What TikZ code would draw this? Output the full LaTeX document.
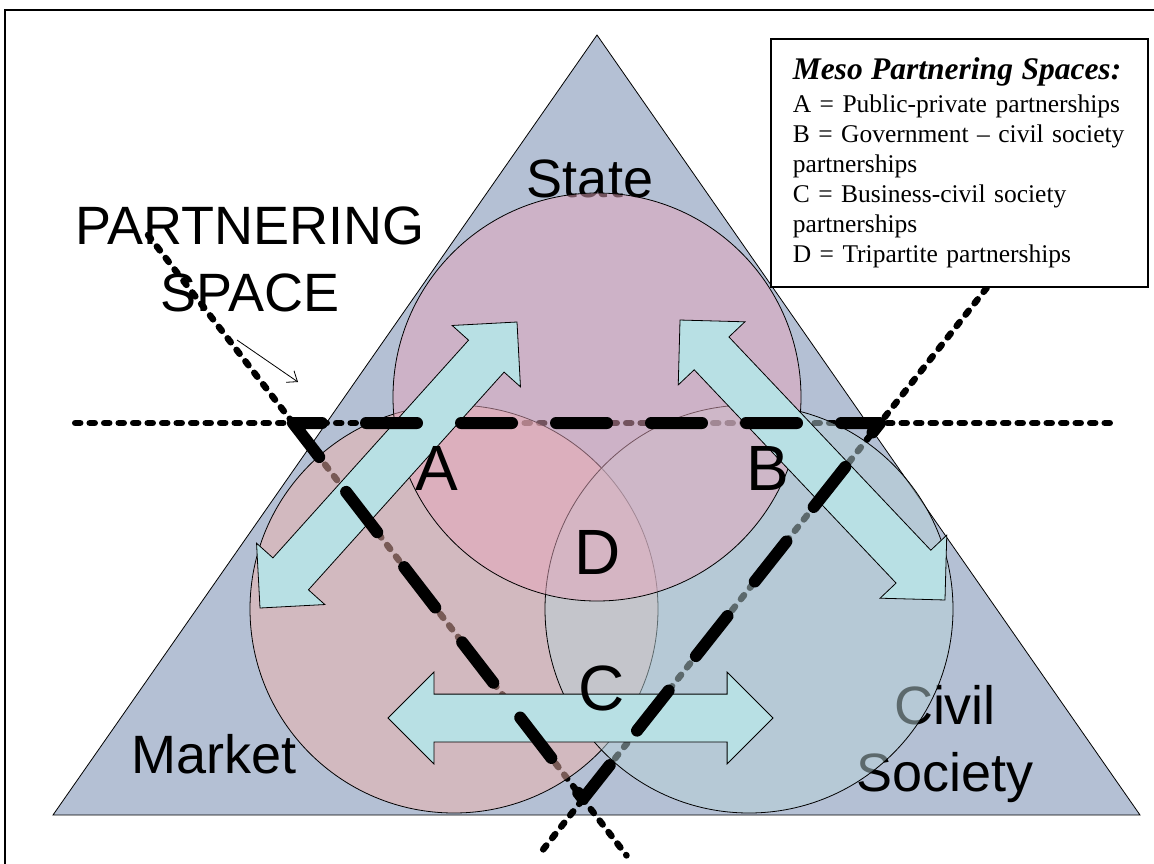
\documentclass[tikz,border=0pt]{standalone}
\usepackage{fontspec}
\setmainfont{Liberation Sans}
\newfontfamily\boxfont{Liberation Serif}
\usetikzlibrary{calc,shapes.arrows,arrows.meta}

\definecolor{tricol}{RGB}{180,192,212}
\definecolor{statecol}{RGB}{230,166,188}
\definecolor{marketcol}{RGB}{240,180,172}
\definecolor{civilcol}{RGB}{184,210,216}
\definecolor{arrowcol}{RGB}{184,224,228}

\tikzset{
  sector/.style={draw=black, line width=0.8pt, fill opacity=0.5},
  dotline/.style={line width=6.5pt, dash pattern=on 5pt off 9.5pt, line cap=round},
  spaceline/.style={line width=12pt, dash pattern=on 51pt off 44pt, dash phase=22pt, line cap=round, line join=round},
  fatarrow/.style={double arrow, draw=black, line width=0.8pt, fill=arrowcol,
    inner sep=23.5pt, double arrow head extend=22pt},
  biglabel/.style={font=\fontsize{54}{67}\selectfont, align=center},
  letter/.style={font=\fontsize{64}{64}\selectfont, anchor=base},
}

% fat two-headed arrow between two named points
\newcommand{\partarrow}[3]{%
  \path let \p1=($(#3)-(#2)$) in
    node[fatarrow, minimum height={veclen(\x1,\y1)}, rotate={atan2(\y1,\x1)}] (#1) at ($(#2)!0.5!(#3)$) {};}

\begin{document}
\begin{tikzpicture}[x=1pt,y=-1pt]
\useasboundingbox (0,0) rectangle (1154,863);
\draw[line width=2pt] (5,10) rectangle (1180,890);

% the big triangle
\coordinate (top) at (597,35);
\coordinate (left) at (53,815);
\coordinate (right) at (1140,815);
\filldraw[fill=tricol, draw=black, line width=0.8pt] (left) -- (right) -- (top) -- cycle;

% sector names, the circles go over them
\node[biglabel, anchor=base] (state) at (590,197) {State};
\node[biglabel, anchor=base] (market) at (214,773) {Market};
\node[biglabel] (civil) at (945,744) {Civil\\Society};
\node[biglabel] (pspace) at (250,259) {PARTNERING\\SPACE};

% corners of the partnering space
\coordinate (psL) at (293,423);
\coordinate (psR) at (880,423);
\coordinate (psB) at (583,799);

% long dotted lines
\draw[dotline] ($(psL)!-0.371!(psR)$) -- ($(psL)!1.405!(psR)$);
\draw[dotline] ($(psL)!-0.5!(psB)$) -- ($(psL)!1.15!(psB)$);
\draw[dotline] ($(psR)!-0.45!(psB)$) -- ($(psR)!1.15!(psB)$);

% the three circles
\coordinate (cmarket) at (454,609);
\coordinate (ccivil) at (749,609);
\coordinate (cstate) at (597,397);
\draw[sector, fill=marketcol] (cmarket) circle[radius=204pt];
\draw[sector, fill=civilcol] (ccivil) circle[radius=204pt];
\draw[sector, fill=statecol] (cstate) circle[radius=204pt];

% two-way arrows
\coordinate (a1) at (260,608); \coordinate (a2) at (517,322);
\coordinate (b1) at (680,320); \coordinate (b2) at (945,600);
\coordinate (c1) at (388,718); \coordinate (c2) at (773,718);
\partarrow{arrA}{a1}{a2}
\partarrow{arrB}{b1}{b2}
\partarrow{arrC}{c1}{c2}

% partnering space
\draw[spaceline] (psL) -- (psR) -- (psB) -- cycle;

\node[letter] (lA) at (437,490) {A};
\node[letter] (lB) at (768,490) {B};
\node[letter] (lC) at (602,710) {C};
\node[letter] (lD) at (598,574) {D};

\coordinate (p1) at (237,340);
\coordinate (p2) at (298,382);
\draw[-{Straight Barb[length=9pt,width=14pt]}, line width=0.8pt] (p1) -- (p2);

% legend
\node[draw=black, line width=1.5pt, fill=white, anchor=north west, text width=333pt,
  inner xsep=22pt, inner ysep=16pt, minimum height=248pt, align=left,
  font=\boxfont\fontsize{25.5}{30}\selectfont] (legend) at (770,38)
  {{\fontsize{31.5}{34}\selectfont\bfseries\itshape Meso Partnering Spaces:}\\[3pt]
   A = Public-private partnerships\\
   B = Government – civil society\\
   partnerships\\
   C = Business-civil society\\
   partnerships\\
   D = Tripartite partnerships};
\end{tikzpicture}
\end{document}
